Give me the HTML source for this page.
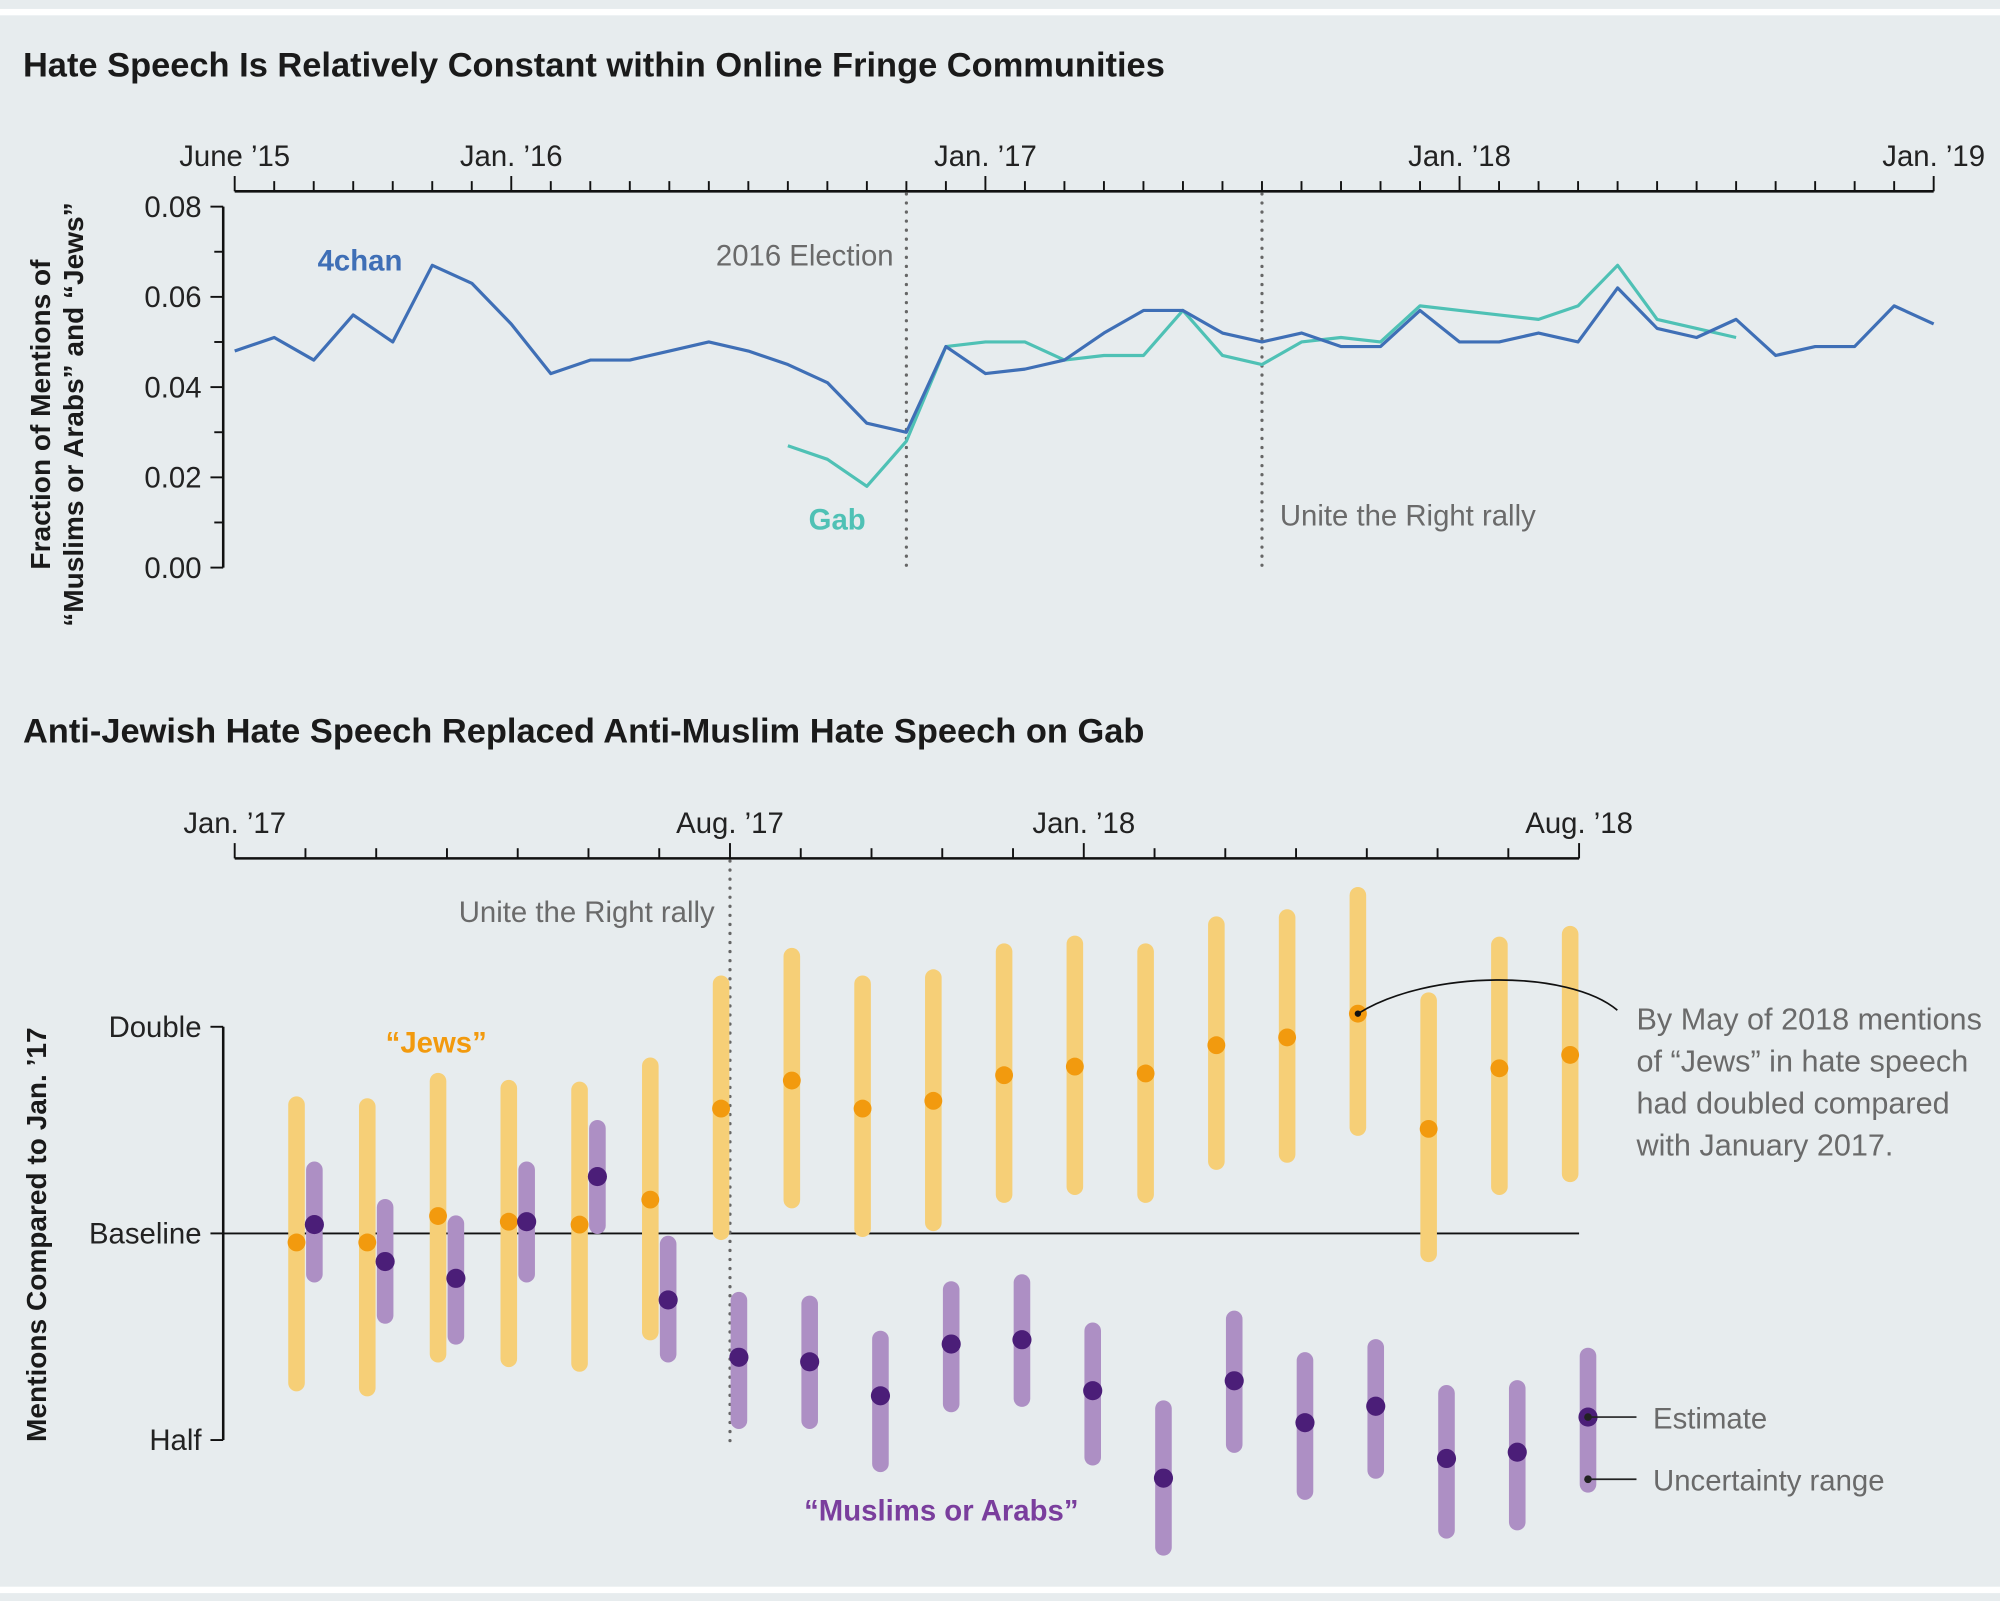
<!DOCTYPE html>
<html><head><meta charset="utf-8">
<style>
html,body{margin:0;padding:0;background:#e7ecee;}
svg{display:block;font-family:"Liberation Sans Narrow","Liberation Sans",sans-serif;}
.tick{font-size:23px;fill:#222;}
.ann{font-size:23px;fill:#6a6a6a;}
.title{font-size:27px;font-weight:bold;fill:#1a1a1a;}
</style></head>
<body>
<svg id="chart" width="2000" height="1601" viewBox="0 0 1568 1255.2" preserveAspectRatio="none" xmlns="http://www.w3.org/2000/svg">
<rect x="0" y="0" width="1568" height="1255.2" fill="#e7ecee"/>
<rect x="0" y="7" width="1568" height="5" fill="#ffffff"/>
<rect x="0" y="1244" width="1568" height="5" fill="#ffffff"/>

<text x="18" y="60" class="title">Hate Speech Is Relatively Constant within Online Fringe Communities</text>
<text x="18" y="582" class="title">Anti-Jewish Hate Speech Replaced Anti-Muslim Hate Speech on Gab</text>

<g id="top"></g>
<g id="bot"></g>
</svg>
<script>
// ---- top chart data ----
const topTickLabels = ["June \u201915","Jan. \u201916","Jan. \u201917","Jan. \u201918","Jan. \u201919"];
const topTickMonths = [0,7,19,31,43];
const yTicks = [0,0.02,0.04,0.06,0.08];
const chanStart = 0;
const chanValues = [0.048,0.051,0.046,0.056,0.050,0.067,0.063,
 0.054,0.043,0.046,0.046,0.048,0.050,0.048,0.045,0.041,0.032,0.030,0.049,
 0.043,0.044,0.046,0.052,0.057,0.057,0.052,0.050,0.052,0.049,0.049,0.057,
 0.050,0.050,0.052,0.050,0.062,0.053,0.051,0.055,0.047,0.049,0.049,0.058,
 0.054];
const gabStart = 14;
const gabValues = [0.027,0.024,0.018,0.028,0.049,0.050,0.050,0.046,0.047,0.047,0.057,0.047,0.045,0.050,0.051,0.050,0.058,0.057,0.056,0.055,0.058,0.067,0.055,0.053,0.051];
const topEvents = [{m:17,label:"2016 Election"},{m:26,label:"Unite the Right rally"}];

// ---- bottom chart data ----
const botTickLabels = ["Jan. \u201917","Aug. \u201917","Jan. \u201918","Aug. \u201918"];
const botTickMonths = [0,7,12,19];
const jewsEst = [0.97,0.97,1.06,1.04,1.03,1.12,1.52,1.67,1.52,1.56,1.70,1.75,1.71,1.88,1.93,2.09,1.42,1.74,1.82];
const jewsHi  = [1.58,1.57,1.71,1.67,1.66,1.80,2.37,2.60,2.37,2.42,2.64,2.71,2.64,2.89,2.96,3.19,2.24,2.70,2.80];
const jewsLo  = [0.59,0.58,0.65,0.64,0.63,0.70,0.98,1.09,0.99,1.01,1.11,1.14,1.11,1.24,1.27,1.39,0.91,1.14,1.19];
const musEst = [1.03,0.91,0.86,1.04,1.21,0.80,0.66,0.65,0.58,0.69,0.70,0.59,0.44,0.61,0.53,0.56,0.47,0.48,0.54];
const musHi  = [1.27,1.12,1.06,1.27,1.46,0.99,0.82,0.81,0.72,0.85,0.87,0.74,0.57,0.77,0.67,0.70,0.60,0.61,0.68];
const musLo  = [0.85,0.74,0.69,0.85,1.00,0.65,0.52,0.52,0.45,0.55,0.56,0.46,0.34,0.48,0.41,0.44,0.36,0.37,0.42];
const yLevels = [2,1,0.5];
const yLevelLabels = ["Double","Baseline","Half"];

const NS="http://www.w3.org/2000/svg";
function mk(parent,tag,attrs,text){const e=document.createElementNS(NS,tag);for(const k in attrs)e.setAttribute(k,attrs[k]);if(text!==undefined)e.textContent=text;parent.appendChild(e);return e;}

// top axes
const T=document.getElementById('top');
const tx=m=>184+m*(1516-184)/43;
const ty=v=>445-v*(445-162)/0.08;
let ax=mk(T,'line',{x1:184,x2:1516,y1:150,y2:150,stroke:'#111','stroke-width':2});


for(let m=0;m<=43;m++){
  const major=topTickMonths.includes(m);
  const t=mk(T,'line',{x1:tx(m),x2:tx(m),y1:150,y2:major?138:142,stroke:'#111','stroke-width':1.5});
  
  
}
topTickLabels.forEach((l,i)=>{
  const t=mk(T,'text',{x:tx(topTickMonths[i]),y:130,'text-anchor':'middle',class:'tick'},l);
  
  
});
let yax=mk(T,'line',{x1:175,x2:175,y1:162,y2:445,stroke:'#111','stroke-width':2});


for(let v=0;v<=0.0801;v+=0.01){
  const major=yTicks.some(t=>Math.abs(t-v)<1e-6);
  const t=mk(T,'line',{x1:major?165:168,x2:175,y1:ty(v),y2:ty(v),stroke:'#111','stroke-width':1.5});
  
  
}
yTicks.forEach(v=>{
  const t=mk(T,'text',{x:158,y:ty(v)+8,'text-anchor':'end',class:'tick'},v.toFixed(2));
  
  
});
let yt=mk(T,'text',{transform:'translate(40,325) rotate(-90)','text-anchor':'middle',style:'font-size:22px;font-weight:bold;fill:#1a1a1a'});


mk(yt,'tspan',{x:0,dy:-1},'Fraction of Mentions of');
mk(yt,'tspan',{x:0,dy:26},'\u201cMuslims or Arabs\u201d and \u201cJews\u201d');
topEvents.forEach((e,i)=>{
  const l=mk(T,'line',{x1:tx(e.m),x2:tx(e.m),y1:152,y2:445,stroke:'#666','stroke-width':2.5,'stroke-dasharray':'0.1 7','stroke-linecap':'round'});
  
  
  const t=mk(T,'text',i===0?{x:tx(e.m)-10,y:208,'text-anchor':'end',class:'ann'}:{x:tx(e.m)+14,y:412,'text-anchor':'start',class:'ann'},e.label);
  
  
});
function pts(start,vals){return vals.map((v,i)=>tx(start+i).toFixed(1)+','+ty(v).toFixed(1)).join(' ');}
let gl=mk(T,'polyline',{points:pts(gabStart,gabValues),fill:'none',stroke:'#4fc1b5','stroke-width':2.5,'stroke-linejoin':'round'});


let cl=mk(T,'polyline',{points:pts(chanStart,chanValues),fill:'none',stroke:'#3f6fb6','stroke-width':2.5,'stroke-linejoin':'round'});


let l4=mk(T,'text',{x:249,y:212,style:'font-size:23px;font-weight:bold;fill:#3f6fb6'},'4chan');


let lg=mk(T,'text',{x:634,y:415,style:'font-size:23px;font-weight:bold;fill:#4fc1b5'},'Gab');



// bottom chart
const B=document.getElementById('bot');
const bx=m=>184+m*(1238-184)/19;
const by=r=>967-Math.log2(r)*162;
let bax=mk(B,'line',{x1:184,x2:1238,y1:673,y2:673,stroke:'#111','stroke-width':2});


for(let m=0;m<=19;m++){
  const major=botTickMonths.includes(m);
  const t=mk(B,'line',{x1:bx(m),x2:bx(m),y1:673,y2:major?661:665,stroke:'#111','stroke-width':1.5});
  
  
}
botTickLabels.forEach((l,i)=>{
  const t=mk(B,'text',{x:bx(botTickMonths[i]),y:653,'text-anchor':'middle',class:'tick'},l);
  
  
});
let byax=mk(B,'line',{x1:175,x2:175,y1:by(2),y2:by(0.5),stroke:'#111','stroke-width':2});


yLevels.forEach((r,i)=>{
  const t=mk(B,'line',{x1:165,x2:175,y1:by(r),y2:by(r),stroke:'#111','stroke-width':1.5});
  
  
  const tl=mk(B,'text',{x:158,y:by(r)+8,'text-anchor':'end',class:'tick'},yLevelLabels[i]);
  
  
});
let bl=mk(B,'line',{x1:175,x2:1238,y1:by(1),y2:by(1),stroke:'#111','stroke-width':1.5});


let byt=mk(B,'text',{transform:'translate(36,968) rotate(-90)','text-anchor':'middle',style:'font-size:22px;font-weight:bold;fill:#1a1a1a'},'Mentions Compared to Jan. \u201917');


let ev=mk(B,'line',{x1:bx(7),x2:bx(7),y1:675,y2:1132,stroke:'#666','stroke-width':2.5,'stroke-dasharray':'0.1 7','stroke-linecap':'round'});


let evl=mk(B,'text',{x:bx(7)-12,y:723,'text-anchor':'end',class:'ann'},'Unite the Right rally');



for(let i=0;i<jewsEst.length;i++){
  const x=bx(i+1)-7;
  const r=mk(B,'line',{x1:x,x2:x,y1:by(jewsHi[i])+6,y2:by(jewsLo[i])-6,stroke:'#f6cf77','stroke-width':13,'stroke-linecap':'round'});
  
  
}
for(let i=0;i<musEst.length;i++){
  const x=bx(i+1)+7;
  const r=mk(B,'line',{x1:x,x2:x,y1:by(musHi[i])+6,y2:by(musLo[i])-6,stroke:'#ad8fc4','stroke-width':13,'stroke-linecap':'round'});
  
  
}
for(let i=0;i<jewsEst.length;i++){
  const c=mk(B,'circle',{cx:bx(i+1)-7,cy:by(jewsEst[i]),r:7,fill:'#f29a0e'});
  
  
}
for(let i=0;i<musEst.length;i++){
  const c=mk(B,'circle',{cx:bx(i+1)+7,cy:by(musEst[i]),r:7.5,fill:'#4b1e78'});
  
  
}
let jl=mk(B,'text',{x:342,y:825,'text-anchor':'middle',style:'font-size:23px;font-weight:bold;fill:#f29a0e'},'\u201cJews\u201d');


let ml=mk(B,'text',{x:738,y:1192,'text-anchor':'middle',style:'font-size:23px;font-weight:bold;fill:#7a3e9d'},'\u201cMuslims or Arabs\u201d');


// May 2018 annotation
const mx=bx(16)-7, my=by(jewsEst[15]);
let ad=mk(B,'circle',{cx:mx,cy:my,r:2.5,fill:'#111'});


let ac=mk(B,'path',{d:`M${mx},${my} C1120,760 1230,760 1268,792`,fill:'none',stroke:'#111','stroke-width':1.3});


let at=mk(B,'text',{class:'ann',style:'font-size:24px'});


["By May of 2018 mentions","of \u201cJews\u201d in hate speech","had doubled compared","with January 2017."].forEach((s,i)=>mk(at,'tspan',{x:1283,y:807+i*33},s));
// legend
const lx=bx(19)+7;
[[by(musEst[18]),'Estimate'],[by(musLo[18])-10,'Uncertainty range']].forEach(([y,s])=>{
  const d=mk(B,'circle',{cx:lx,cy:y,r:3,fill:'#222'});
  
  
  const l=mk(B,'line',{x1:lx,x2:1283,y1:y,y2:y,stroke:'#222','stroke-width':1.3});
  
  
  const t=mk(B,'text',{x:1296,y:y+9,class:'ann'},s);
  
  
});
</script>
</body></html>
